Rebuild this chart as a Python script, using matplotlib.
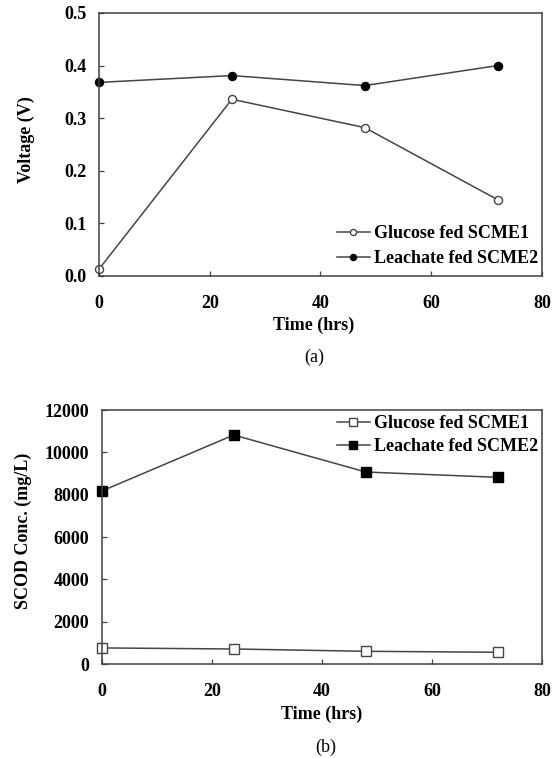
import matplotlib
matplotlib.use("Agg")
import matplotlib.pyplot as plt

time_hrs = [0, 24, 48, 72]
voltage_glucose = [0.013, 0.336, 0.282, 0.145]
voltage_leachate = [0.368, 0.381, 0.362, 0.400]
scod_glucose = [760, 710, 600, 555]
scod_leachate = [8170, 10820, 9070, 8820]
label_glucose = "Glucose fed SCME1"
label_leachate = "Leachate fed SCME2"

plt.rcParams['font.family'] = ['Liberation Serif', 'DejaVu Serif']

fig = plt.figure(figsize=(5.6, 7.58), dpi=100)
ax1 = fig.add_axes([0.1768, 0.6359, 0.791, 0.347])
ax2 = fig.add_axes([0.1816, 0.1240, 0.786, 0.3351])

lc = '#454545'
fs = 13

def style(ax):
    for s in ax.spines.values():
        s.set_color('#404040')
        s.set_linewidth(1.1)
    ax.tick_params(axis='both', direction='in', length=3.5, width=0.9, color='#404040',
                   labelsize=fs)
    ax.tick_params(axis='x', pad=14)
    ax.tick_params(axis='y', pad=9)
    ax.set_xlim(0, 80)
    ax.set_xticks([0, 20, 40, 60, 80])
    for t in ax.get_xticklabels() + ax.get_yticklabels():
        t.set_fontweight('bold')

# Panel (a)
ax1.plot(time_hrs, voltage_glucose, '-o', color=lc, mfc='white', mec=lc,
         ms=5.8, lw=1.1, mew=1.0, label=label_glucose, clip_on=False)
ax1.plot(time_hrs, voltage_leachate, '-o', color=lc, mfc='black', mec='black',
         ms=5.8, lw=1.1, label=label_leachate, clip_on=False)
ax1.set_ylim(0, 0.5)
ax1.set_yticks([0.0, 0.1, 0.2, 0.3, 0.4, 0.5])
ax1.set_yticklabels(['0.0', '0.1', '0.2', '0.3', '0.4', '0.5'])
style(ax1)
ax1.set_xlabel('Time (hrs)', fontsize=fs, fontweight='bold')
ax1.set_ylabel('Voltage (V)', fontsize=fs, fontweight='bold')
ax1.xaxis.set_label_coords(0.484, -0.154)
ax1.yaxis.set_label_coords(-0.145, 0.517)
ax1.legend(loc='lower right', bbox_to_anchor=(1.0, 0.02), frameon=False,
           prop={'size': fs, 'weight': 'bold'}, markerscale=0.75,
           handlelength=1.8, handletextpad=0.25, borderaxespad=0.0,
           borderpad=0.2, labelspacing=0.45)

# Panel (b)
ax2.plot(time_hrs, scod_glucose, '-s', color=lc, mfc='white', mec=lc,
         ms=6.5, lw=1.1, mew=1.0, label=label_glucose, clip_on=False)
ax2.plot(time_hrs, scod_leachate, '-s', color=lc, mfc='black', mec='black',
         ms=6.5, lw=1.1, label=label_leachate, clip_on=False)
ax2.set_ylim(0, 12000)
ax2.set_yticks([0, 2000, 4000, 6000, 8000, 10000, 12000])
style(ax2)
ax2.set_xlabel('Time (hrs)', fontsize=fs, fontweight='bold')
ax2.set_ylabel('SCOD Conc. (mg/L)', fontsize=fs, fontweight='bold')
ax2.xaxis.set_label_coords(0.5, -0.163)
ax2.yaxis.set_label_coords(-0.158, 0.524)
ax2.legend(loc='upper right', bbox_to_anchor=(1.0, 0.995), frameon=False,
           prop={'size': fs, 'weight': 'bold'}, markerscale=0.8,
           handlelength=1.8, handletextpad=0.25, borderaxespad=0.0,
           borderpad=0.2, labelspacing=0.33)

fig.text(314 / 560, 1 - 357 / 758, '(a)', ha='center', va='center', fontsize=13)
fig.text(326 / 560, 1 - 747 / 758, '(b)', ha='center', va='center', fontsize=13)

fig.savefig('out.png', dpi=100)
